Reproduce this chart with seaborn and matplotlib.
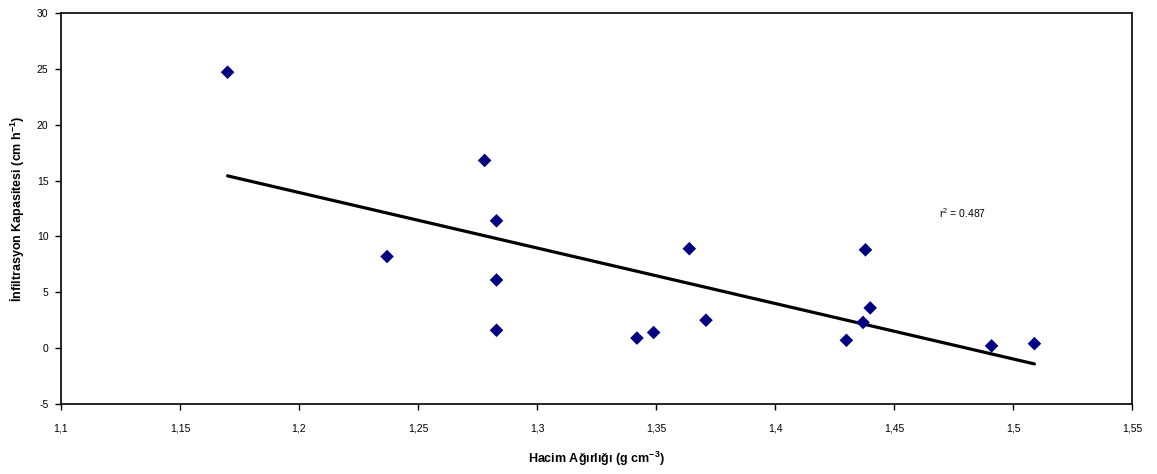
import numpy as np
import pandas as pd
import matplotlib
matplotlib.use("Agg")
import matplotlib.pyplot as plt
from matplotlib.ticker import FuncFormatter
import seaborn as sns

# veri
hacim_agirligi = [1.170, 1.278, 1.283, 1.237, 1.283, 1.283, 1.342, 1.349,
                  1.364, 1.371, 1.430, 1.438, 1.437, 1.440, 1.491, 1.509]
infiltrasyon = [24.7, 16.8, 11.4, 8.2, 6.1, 1.6, 0.9, 1.4,
                8.9, 2.5, 0.7, 8.8, 2.3, 3.6, 0.2, 0.4]
r2_text = "r$^2$ = 0.487"

df = pd.DataFrame({"x": hacim_agirligi, "y": infiltrasyon})

sns.set_style("white")
plt.rcParams["font.family"] = ["Liberation Sans", "DejaVu Sans"]
plt.rcParams["mathtext.fontset"] = "custom"
plt.rcParams["mathtext.rm"] = "Liberation Sans"
plt.rcParams["mathtext.it"] = "Liberation Sans"
plt.rcParams["mathtext.bf"] = "Liberation Sans:bold"
plt.rcParams["axes.unicode_minus"] = False
plt.rcParams["text.color"] = "black"
plt.rcParams["axes.labelcolor"] = "black"
plt.rcParams["xtick.color"] = "black"
plt.rcParams["ytick.color"] = "black"

fig = plt.figure(figsize=(11.57, 4.74), dpi=100)
ax = fig.add_axes([0.0527, 0.1477, 0.9257, 0.8249])

# regresyon doğrusu
sns.regplot(x="x", y="y", data=df, scatter=False, ci=None, ax=ax,
            line_kws={"color": "black", "linewidth": 2.3})
sns.scatterplot(x="x", y="y", data=df, marker="D", s=48, color="#000080",
                edgecolor="none", ax=ax, zorder=3)

ax.set_xlim(1.1, 1.55)
ax.set_ylim(-5, 30)
ax.set_xticks(np.arange(1.1, 1.5501, 0.05))
ax.set_yticks(np.arange(-5, 31, 5))
ax.xaxis.set_major_formatter(FuncFormatter(lambda v, p: f"{v:.2f}".rstrip("0").replace(".", ",")))
ax.tick_params(axis="both", direction="out", length=4, width=1, labelsize=7.5,
               bottom=True, left=True, pad=5)
ax.tick_params(axis="x", pad=10)
for sp in ax.spines.values():
    sp.set_color("black")
    sp.set_linewidth(1.2)

ax.set_xlabel("Hacim Ağırlığı (g cm$^{\\mathbf{-3}}$)", fontsize=9, fontweight="bold", labelpad=12)
ax.set_ylabel("İnfiltrasyon Kapasitesi (cm h$^{\\mathbf{-1}}$)", fontsize=9, fontweight="bold", labelpad=8)
ax.text(1.479, 12.1, r2_text, fontsize=7.5, ha="center", va="center")

fig.savefig("out.png", dpi=100)
